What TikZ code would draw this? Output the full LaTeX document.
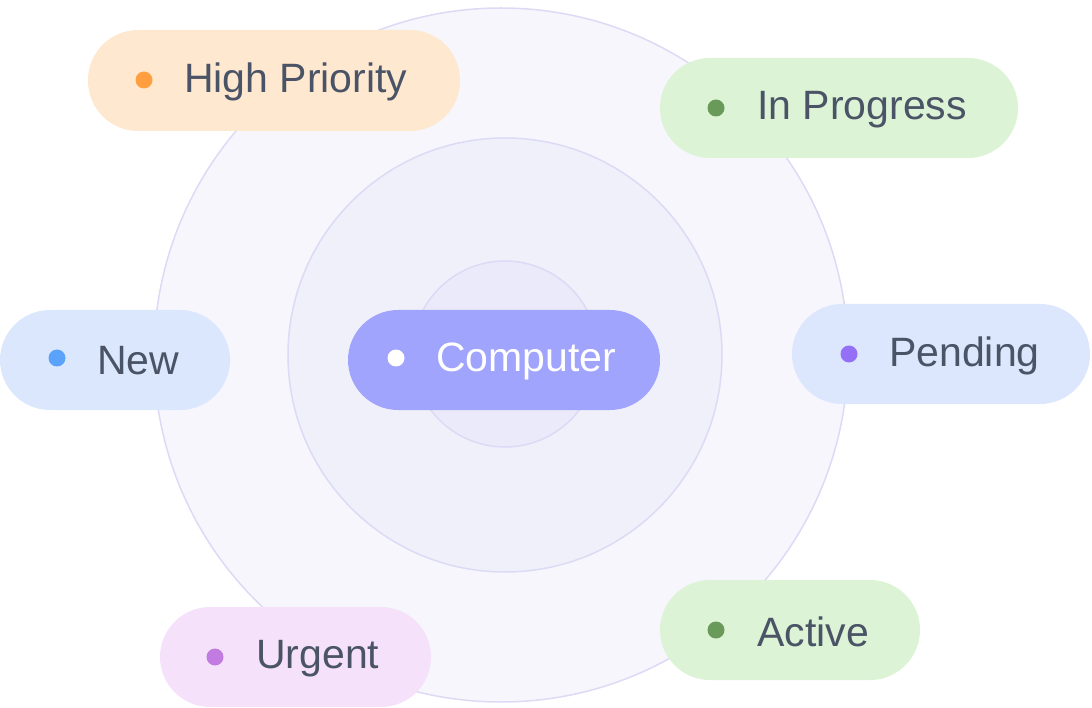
\documentclass[tikz,border=0pt]{standalone}
\usepackage{fontspec}
\setmainfont{Liberation Sans}
\begin{document}
\begin{tikzpicture}[x=1pt,y=-1pt,
  lbl/.style={font=\fontsize{41}{41}\selectfont, text=textc, anchor=west, inner sep=0pt},
  dot/.style={circle, inner sep=0pt, minimum size=17pt}]
\definecolor{textc}{HTML}{4A5466}
\definecolor{ring}{HTML}{DDDAF5}
\useasboundingbox (0,0) rectangle (1092,708);
\fill[color={rgb,255:red,246;green,246;blue,252}, draw=ring, line width=1.5pt] (501,355) circle (347);
\fill[color={rgb,255:red,240;green,240;blue,251}, draw=ring, line width=1.5pt] (505,355) circle (217);
\fill[color={rgb,255:red,234;green,234;blue,250}, draw=ring, line width=1.5pt] (505,354) circle (93);
% pills
\fill[color={rgb,255:red,255;green,232;blue,208}, rounded corners=50pt] (88,30) rectangle (460,131);
\node[dot, fill={rgb,255:red,255;green,159;blue,64}] (d1) at (144,80) {};
\node[lbl] (t1) at (184,82) {High Priority};
\fill[color={rgb,255:red,220;green,243;blue,213}, rounded corners=50pt] (660,58) rectangle (1018,158);
\node[dot, fill={rgb,255:red,106;green,154;blue,90}] (d2) at (716,108) {};
\node[lbl] (t2) at (757,110) {In Progress};
\fill[color={rgb,255:red,219;green,231;blue,252}, rounded corners=50pt] (0,310) rectangle (230,410);
\node[dot, fill={rgb,255:red,91;green,163;blue,250}] (d3) at (57,358) {};
\node[lbl] (t3) at (97,361) {New};
\fill[color={rgb,255:red,160;green,164;blue,252}, rounded corners=50pt] (348,310) rectangle (660,410);
\node[dot, fill=white] (d4) at (396,358) {};
\node[lbl, text=white] (t4) at (436,361) {Computer};
\fill[color={rgb,255:red,220;green,230;blue,252}, rounded corners=50pt] (792,304) rectangle (1090,404);
\node[dot, fill={rgb,255:red,147;green,112;blue,245}] (d5) at (849,354) {};
\node[lbl] (t5) at (889,356) {Pending};
\fill[color={rgb,255:red,220;green,243;blue,213}, rounded corners=50pt] (660,580) rectangle (920,680);
\node[dot, fill={rgb,255:red,106;green,154;blue,90}] (d6) at (716,630) {};
\node[lbl] (t6) at (757,632) {Active};
\fill[color={rgb,255:red,245;green,226;blue,250}, rounded corners=50pt] (160,607) rectangle (431,707);
\node[dot, fill={rgb,255:red,194;green,123;blue,224}] (d7) at (215,657) {};
\node[lbl] (t7) at (256,659) {Urgent};
\end{tikzpicture}
\end{document}
